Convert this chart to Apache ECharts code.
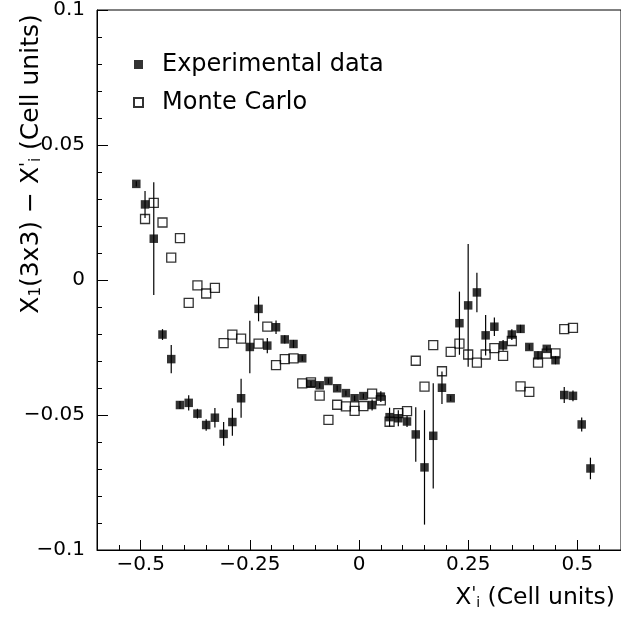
<!DOCTYPE html>
<html>
<head>
<meta charset="utf-8">
<script src="https://cdn.jsdelivr.net/npm/echarts@6/dist/echarts.min.js"></script>
<style>
  html, body { margin: 0; padding: 0; background: #fff; }
  #chart { width: 621px; height: 618px; }
</style>
</head>
<body>
<div id="chart"></div>
<script>
// ---- Data ----
const expX = [-0.51,-0.49,-0.47,-0.45,-0.43,-0.41,-0.39,-0.37,-0.35,-0.33,-0.31,-0.29,-0.27,-0.25,-0.23,-0.21,-0.19,-0.17,-0.15,-0.13,-0.11,-0.09,-0.07,-0.05,-0.03,-0.01,
  0.01,0.03,0.05,0.07,0.09,0.11,0.13,0.15,0.17,0.19,0.21,0.23,0.25,0.27,0.29,0.31,0.33,0.35,0.37,0.39,0.41,0.43,0.45,0.47,0.49,0.51,0.53];
const expY = [0.0356,0.0280,0.0153,-0.0202,-0.0293,-0.0463,-0.0455,-0.0495,-0.0537,-0.0510,-0.0570,-0.0526,-0.0438,-0.0248,-0.0107,-0.0243,-0.0175,-0.0220,-0.0237,-0.0290,-0.0384,-0.0390,-0.0374,-0.0401,-0.0419,-0.0438,
  -0.0430,-0.0463,-0.0432,-0.0508,-0.0512,-0.0524,-0.0572,-0.0694,-0.0577,-0.0399,-0.0438,-0.0160,-0.0094,-0.0046,-0.0205,-0.0173,-0.0242,-0.0202,-0.0181,-0.0248,-0.0279,-0.0255,-0.0297,-0.0426,-0.0429,-0.0535,-0.0698];
const expErr = [0.001,0.005,0.0209,0.002,0.0052,0.0015,0.0028,0.0018,0.0021,0.0036,0.0044,0.0051,0.0072,0.0097,0.0046,0.0028,0.0025,0.0015,0.0015,0.001,0.001,0.001,0.001,0.001,0.001,0.001,
  0.001,0.002,0.002,0.0035,0.003,0.002,0.0101,0.0212,0.0195,0.006,0.001,0.0117,0.0227,0.0073,0.0075,0.0034,0.002,0.002,0.0015,0.001,0.0015,0.001,0.0015,0.003,0.002,0.0026,0.004];

const mcX = [-0.49,-0.47,-0.45,-0.43,-0.41,-0.39,-0.37,-0.35,-0.33,-0.31,-0.29,-0.27,-0.23,-0.21,-0.19,-0.17,-0.15,-0.13,-0.11,-0.09,-0.07,-0.05,-0.03,-0.01,
  0.01,0.03,0.05,0.07,0.09,0.11,0.13,0.15,0.17,0.19,0.21,0.23,0.25,0.27,0.29,0.31,0.33,0.35,0.37,0.39,0.41,0.43,0.45,0.47,0.49];
const mcY = [0.0226,0.0286,0.0213,0.0083,0.0155,-0.0085,-0.0020,-0.0050,-0.0029,-0.0234,-0.0202,-0.0217,-0.0236,-0.0173,-0.0315,-0.0293,-0.0290,-0.0383,-0.0379,-0.0428,-0.0518,-0.0462,-0.0468,-0.0485,
  -0.0467,-0.0421,-0.0446,-0.0525,-0.0493,-0.0486,-0.0299,-0.0395,-0.0241,-0.0338,-0.0266,-0.0236,-0.0276,-0.0306,-0.0276,-0.0252,-0.0281,-0.0226,-0.0394,-0.0414,-0.0306,-0.0273,-0.0272,-0.0182,-0.0177];

const xMajorTicks = [-0.5, -0.25, 0, 0.25, 0.5];
const seriesNames = ['Experimental data', 'Monte Carlo'];

// ---- Chart ----
const FONT = 'DejaVu Sans';
function fmt(v) {
  const a = parseFloat(Math.abs(v).toFixed(4));
  if (a === 0) return '0';
  return (v < 0 ? '\u2212' : '') + a;
}

const chart = echarts.init(document.getElementById('chart'), null, { renderer: 'canvas' });

const expData = expX.map((x, i) => [x, expY[i]]);
const errData = expX.map((x, i) => [x, expY[i], expErr[i]]);
const mcData = mcX.map((x, i) => [x, mcY[i]]);

function richStyles(size) {
  return {
    n: { fontFamily: FONT, fontSize: size, color: '#000' },
    sub: { fontFamily: FONT, fontSize: Math.round(size * 0.6), color: '#000', verticalAlign: 'bottom' },
    sup: { fontFamily: FONT, fontSize: Math.round(size * 0.72), color: '#000', verticalAlign: 'top' }
  };
}

const option = {
  animation: false,
  backgroundColor: '#fff',
  grid: {
    left: 97, top: 8, right: -1, bottom: 68,
    show: true, borderColor: '#000', borderWidth: 1, backgroundColor: 'transparent'
  },
  xAxis: [
    {
      type: 'value', min: -0.6, max: 0.6, position: 'bottom',
      axisLine: { show: true, onZero: false, lineStyle: { color: '#000', width: 1 } },
      axisTick: { show: true, inside: true, length: 10, customValues: xMajorTicks, lineStyle: { color: '#000', width: 1 } },
      axisLabel: { customValues: xMajorTicks, formatter: fmt, fontFamily: FONT, fontSize: 20, color: '#000', margin: 5 },
      splitLine: { show: false }
    },
    {
      type: 'value', min: -0.6, max: 0.6, interval: 0.05, position: 'bottom',
      axisLine: { show: false, onZero: false },
      axisTick: { show: true, inside: true, length: 5, lineStyle: { color: '#000', width: 1 } },
      axisLabel: { show: false },
      splitLine: { show: false }
    }
  ],
  yAxis: {
    type: 'value', min: -0.1, max: 0.1, interval: 0.05,
    axisLine: { show: true, onZero: false, lineStyle: { color: '#000', width: 1 } },
    axisTick: { show: true, inside: true, length: 11, lineStyle: { color: '#000', width: 1 } },
    minorTick: { show: true, splitNumber: 5, length: 5, lineStyle: { color: '#000', width: 1 } },
    axisLabel: { formatter: fmt, fontFamily: FONT, fontSize: 20, color: '#000', margin: 12 },
    splitLine: { show: false }
  },
  legend: {
    orient: 'vertical', left: 133, top: 50, padding: 0,
    itemWidth: 9, itemHeight: 9, itemGap: 9,
    data: seriesNames,
    textStyle: { fontFamily: FONT, fontSize: 24, color: '#000', lineHeight: 29, padding: [0, 0, 0, 14] },
    selectedMode: false
  },
  graphic: [
    {
      type: 'text', x: 31, y: 164, rotation: Math.PI / 2,
      style: {
        text: '{n|X}{sub|1}{n|(3x3) \u2212 X}{sup|\'}{sub|i}{n| (Cell units)}',
        rich: richStyles(25), align: 'center', verticalAlign: 'middle', textAlign: 'center', textVerticalAlign: 'middle'
      }
    },
    {
      type: 'text', right: 6, top: 586,
      style: {
        text: '{n|X}{sup|\'}{sub|i}{n| (Cell units)}',
        rich: richStyles(23.5)
      }
    }
  ],
  series: [
    {
      name: seriesNames[1], type: 'scatter', xAxisIndex: 0, data: mcData,
      symbol: 'rect', symbolSize: 9,
      itemStyle: { color: 'rgba(255,255,255,0)', borderColor: '#000', borderWidth: 1.3 },
      z: 2
    },
    {
      name: 'errors', type: 'custom', xAxisIndex: 0, data: errData,
      encode: { x: 0, y: 1 },
      renderItem: function (params, api) {
        const x = api.value(0), y = api.value(1), e = api.value(2);
        const p1 = api.coord([x, y - e]);
        const p2 = api.coord([x, y + e]);
        return { type: 'line', shape: { x1: p1[0], y1: p1[1], x2: p2[0], y2: p2[1] },
                 style: { stroke: '#000', lineWidth: 1.2 } };
      },
      z: 3
    },
    {
      name: seriesNames[0], type: 'scatter', xAxisIndex: 0, data: expData,
      symbol: 'rect', symbolSize: 8.5,
      itemStyle: { color: '#000' },
      z: 4
    }
  ]
};
chart.setOption(option);
</script>
</body>
</html>
